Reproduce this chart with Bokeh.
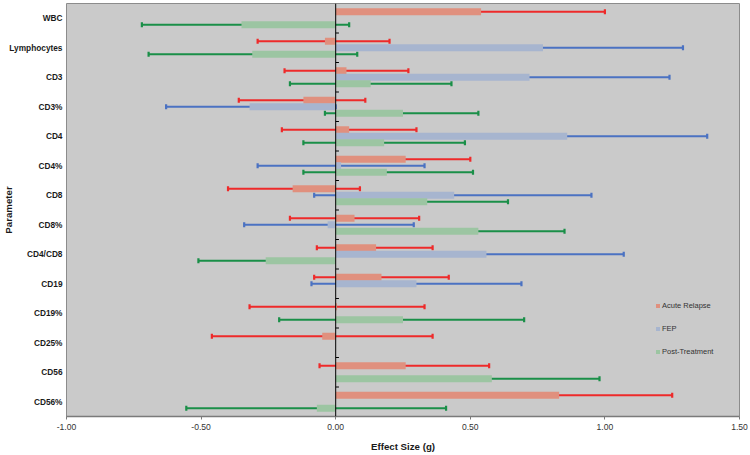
import math
from bokeh.plotting import figure
from bokeh.models import (Range1d, FixedTicker, NumeralTickFormatter, Whisker, TeeHead,
                          ColumnDataSource, Legend, LegendItem, Span)
from bokeh.embed import file_html
from bokeh.resources import INLINE

# ---------------- data ----------------
categories = ["WBC", "Lymphocytes", "CD3", "CD3%", "CD4", "CD4%", "CD8", "CD8%",
              "CD4/CD8", "CD19", "CD19%", "CD25%", "CD56", "CD56%"]

acute_g  = [0.54, -0.04, 0.04, -0.12, 0.05, 0.26, -0.16, 0.07, 0.15, 0.17, 0.005, -0.05, 0.26, 0.83]
acute_lo = [0.08, -0.29, -0.19, -0.36, -0.20, 0.02, -0.40, -0.17, -0.07, -0.08, -0.32, -0.46, -0.06, 0.41]
acute_hi = [1.00, 0.20, 0.27, 0.11, 0.30, 0.50, 0.09, 0.31, 0.36, 0.42, 0.33, 0.36, 0.57, 1.25]

fep_g  = [None, 0.77, 0.72, -0.32, 0.86, 0.02, 0.44, -0.03, 0.56, 0.30, None, None, None, None]
fep_lo = [None, 0.25, 0.20, -0.63, 0.33, -0.29, -0.08, -0.34, 0.04, -0.09, None, None, None, None]
fep_hi = [None, 1.29, 1.24, 0.00, 1.38, 0.33, 0.95, 0.29, 1.07, 0.69, None, None, None, None]

post_g  = [-0.35, -0.31, 0.13, 0.25, 0.18, 0.19, 0.34, 0.53, -0.26, None, 0.25, None, 0.58, -0.07]
post_lo = [-0.72, -0.695, -0.17, -0.04, -0.12, -0.12, 0.04, 0.21, -0.51, None, -0.21, None, 0.18, -0.555]
post_hi = [0.05, 0.08, 0.43, 0.53, 0.48, 0.51, 0.64, 0.85, -0.01, None, 0.70, None, 0.98, 0.41]

series_names = ["Acute Relapse", "FEP", "Post-Treatment"]
x_ticks = [-1.0, -0.5, 0.0, 0.5, 1.0, 1.5]

# ---------------- style ----------------
FONT = "Liberation Sans"
bar_colors = ["#E0907E", "#A7B5CF", "#9CC5A2"]
line_colors = ["#EE2A2A", "#4B72C2", "#1A8F48"]
offsets = [-0.22, 0.0, 0.22]
bar_h = 0.23

W, H = 748, 454
n = len(categories)
p = figure(width=W, height=H, output_backend="svg", toolbar_location=None,
           x_range=Range1d(-1, 1.5), y_range=Range1d(n, 0),
           min_border_left=66, min_border_right=W - 739, min_border_top=3,
           min_border_bottom=H - 416)
p.background_fill_color = "#CACACA"
p.border_fill_color = "white"
p.outline_line_color = "#8C8C8C"
p.outline_line_width = 1
p.xgrid.visible = False
p.ygrid.visible = False

# x axis
p.xaxis.ticker = FixedTicker(ticks=x_ticks)
p.xaxis.formatter = NumeralTickFormatter(format="0.00")
p.xaxis.axis_line_color = "#7A7A7A"
p.xaxis.axis_line_width = 1.5
p.xaxis.major_tick_line_color = "#7A7A7A"
p.xaxis.major_tick_out = 3
p.xaxis.major_tick_in = 0
p.xaxis.minor_tick_line_color = None
p.xaxis.major_label_standoff = 4
p.xaxis.major_label_text_font = FONT
p.xaxis.major_label_text_font_size = "8.6px"
p.xaxis.major_label_text_color = "#333333"
p.xaxis.axis_label = "Effect Size (g)"
p.xaxis.axis_label_text_font = FONT
p.xaxis.axis_label_text_font_style = "bold"
p.xaxis.axis_label_text_font_size = "9.7px"
p.xaxis.axis_label_text_color = "#1A1A1A"
p.xaxis.axis_label_standoff = 8

# y axis
centers = [i + 0.5 for i in range(n)]
p.yaxis.ticker = FixedTicker(ticks=centers)
p.yaxis.major_label_overrides = {c: name for c, name in zip(centers, categories)}
p.yaxis.axis_line_color = None
p.yaxis.major_tick_line_color = None
p.yaxis.major_tick_out = 0
p.yaxis.major_tick_in = 0
p.yaxis.minor_tick_line_color = None
p.yaxis.major_label_standoff = 4
p.yaxis.major_label_text_font = FONT
p.yaxis.major_label_text_font_style = "bold"
p.yaxis.major_label_text_font_size = "8.3px"
p.yaxis.major_label_text_color = "#1A1A1A"
p.yaxis.axis_label = "Parameter"
p.yaxis.axis_label_text_font = FONT
p.yaxis.axis_label_text_font_style = "bold"
p.yaxis.axis_label_text_font_size = "9.7px"
p.yaxis.axis_label_text_color = "#1A1A1A"
p.yaxis.axis_label_standoff = -8

all_series = [(acute_g, acute_lo, acute_hi), (fep_g, fep_lo, fep_hi), (post_g, post_lo, post_hi)]
bar_renderers = []
for k, (g, lo, hi) in enumerate(all_series):
    ys, gs, los, his = [], [], [], []
    for i in range(n):
        if g[i] is None:
            continue
        ys.append(centers[i] + offsets[k])
        gs.append(g[i])
        los.append(lo[i])
        his.append(hi[i])
    src = ColumnDataSource(dict(y=ys, g=gs, lo=los, hi=his))
    r = p.hbar(y="y", left=0, right="g", height=bar_h, source=src,
               fill_color=bar_colors[k], line_color=None)
    bar_renderers.append(r)
    w = Whisker(source=src, base="y", lower="lo", upper="hi", dimension="width",
                line_color=line_colors[k], line_width=1.8,
                lower_head=TeeHead(size=5, line_color=line_colors[k], line_width=2.2),
                upper_head=TeeHead(size=5, line_color=line_colors[k], line_width=2.2))
    p.add_layout(w)

# zero line with small ticks at category boundaries
p.add_layout(Span(location=0, dimension="height", line_color="black", line_width=1))
bounds = list(range(1, n))
p.segment(x0=[0] * len(bounds), x1=[0.012] * len(bounds), y0=bounds, y1=bounds,
          line_color="black", line_width=1)

# legends
legend_y = [106, 83, 60]
for k, name in enumerate(series_names):
    lg = Legend(items=[LegendItem(label=name, renderers=[bar_renderers[k]])],
                location=(589, legend_y[k]), padding=0, margin=0, spacing=0,
                border_line_color=None, background_fill_alpha=0,
                glyph_width=5, glyph_height=5, label_height=9, label_standoff=2,
                label_text_font=FONT, label_text_font_size="7.5px",
                label_text_color="#333333")
    p.add_layout(lg)

open("out.html", "w").write(file_html(p, INLINE))
